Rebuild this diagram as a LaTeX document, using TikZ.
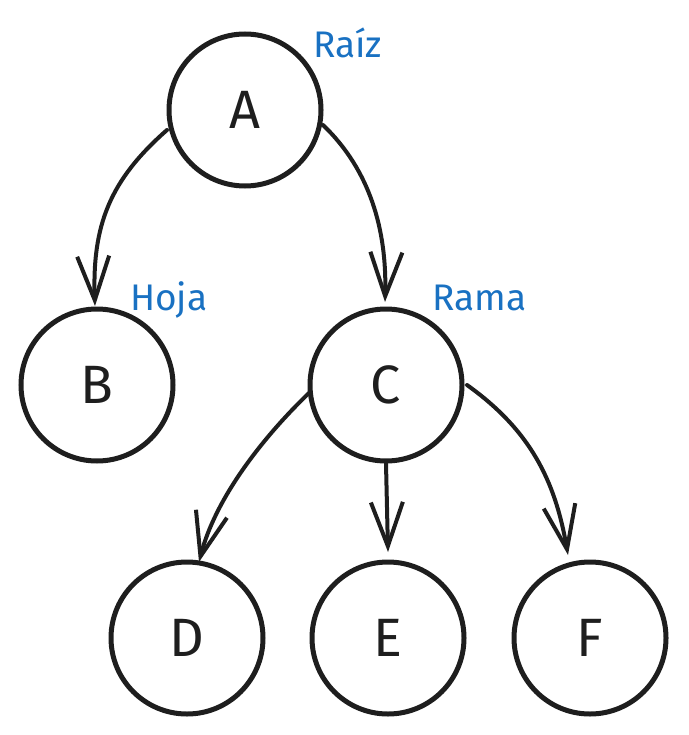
\documentclass[tikz,border=0pt]{standalone}
\usepackage{fontspec}
\setmainfont{Fira Sans}
\usetikzlibrary{arrows.meta}
\definecolor{inkc}{HTML}{1E1E1E}
\definecolor{labblue}{HTML}{1971C2}
\begin{document}
\begin{tikzpicture}[x=1pt,y=-1pt,
  treenode/.style={circle,draw=inkc,line width=5pt,minimum size=152pt,inner sep=0pt,font=\fontsize{54}{58}\selectfont,text=inkc},
  link/.style={draw=inkc,line width=4pt,line cap=round,-{Straight Barb[length=44pt,width=32pt,line width=4pt]}},
  tag/.style={text=labblue,font=\fontsize{37}{40}\selectfont,anchor=west,inner sep=0pt}]
\useasboundingbox (0,0) rectangle (688,735);
\node[treenode] (A) at (245,110) {A};
\node[treenode] (B) at (97,385) {B};
\node[treenode] (C) at (386,385) {C};
\node[treenode] (D) at (187,638) {D};
\node[treenode] (E) at (388,638) {E};
\node[treenode] (F) at (590,638) {F};
\coordinate (a1) at (167,130);
\coordinate (a2) at (323,125);
\coordinate (c1) at (310,392);
\coordinate (c3) at (467,385);
\coordinate (bt) at (95,306);
\coordinate (ct) at (385,302);
\coordinate (dt) at (199,562);
\coordinate (et) at (388,552);
\coordinate (ft) at (568,555);
\draw[link] (a1) .. controls (110,180) and (92,225) .. (bt);
\draw[link] (a2) .. controls (370,170) and (387,230) .. (ct);
\draw[link] (c1) .. controls (260,440) and (215,500) .. (dt);
\draw[link] (C.south) -- (et);
\draw[link] (c3) .. controls (530,430) and (555,480) .. (ft);
\node[tag] (r) at (313,43) {Raíz};
\node[tag] (h) at (130,300) {Hoja};
\node[tag] (m) at (432,298) {Rama};
\end{tikzpicture}
\end{document}
